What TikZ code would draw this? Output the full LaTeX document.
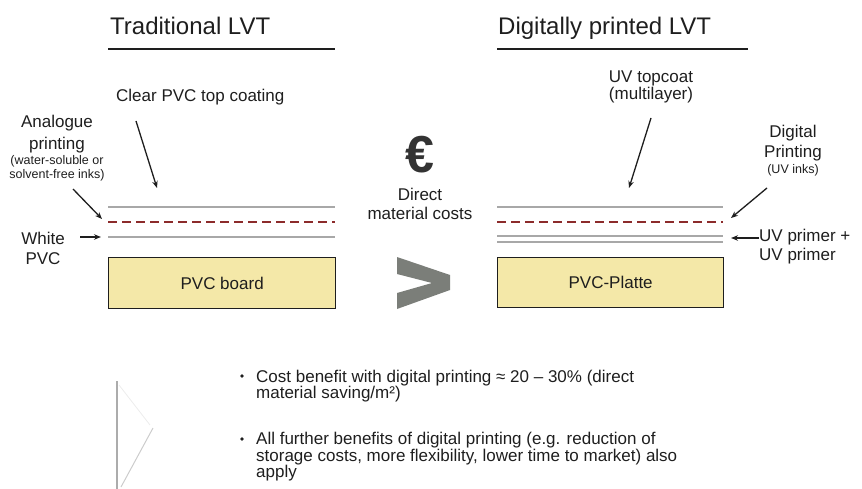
\documentclass[tikz,border=0pt]{standalone}
\usepackage{fontspec}
\setmainfont{Liberation Sans}
\usetikzlibrary{arrows.meta}
\definecolor{txt}{HTML}{1E1E1E}
\definecolor{board}{HTML}{F4E8A8}
\definecolor{layergray}{HTML}{A8A8A8}
\definecolor{inkred}{HTML}{8C2B2B}
\definecolor{chev}{HTML}{7B7E79}
\definecolor{eurocol}{HTML}{333333}
\begin{document}
\begin{tikzpicture}[x=1pt,y=-1pt,
 lbl/.style={font=\fontsize{17}{20}\selectfont, text=txt, inner sep=0pt, anchor=base},
 sml/.style={font=\fontsize{12.5}{14}\selectfont, text=txt, inner sep=0pt, anchor=base},
 ttl/.style={font=\fontsize{24}{28}\selectfont, text=txt, inner sep=0pt, anchor=base west},
 bul/.style={font=\fontsize{17}{17}\selectfont, text=txt, inner sep=0pt, anchor=base west},
 dot/.style={fill=txt, circle, inner sep=0pt, minimum size=3.8pt},
 arr/.style={draw=txt, line width=1.3pt, -{Stealth[length=7pt,width=5.5pt]}},
 glayer/.style={draw=layergray, line width=1.4pt},
 rlayer/.style={draw=inkred, line width=2.2pt, dash pattern=on 9pt off 5pt},
 boardbox/.style={draw=txt, line width=1.3pt, fill=board, inner sep=0pt,
   font=\fontsize{17}{20}\selectfont, text=txt, anchor=north west},
 uline/.style={draw=txt, line width=2pt},
]
\useasboundingbox (0,0) rectangle (862,489);

% titles
\node[ttl] (t1) at (110,35) {Traditional LVT};
\node[ttl] (t2) at (498,35) {Digitally printed LVT};
\coordinate (u1a) at (108,49); \coordinate (u1b) at (335,49);
\coordinate (u2a) at (497,49); \coordinate (u2b) at (748,49);
\draw[uline] (u1a) -- (u1b);
\draw[uline] (u2a) -- (u2b);

% left side labels
\node[lbl, anchor=base west] (clear) at (116,102) {Clear PVC top coating};
\node[lbl] (ana1) at (57,128) {Analogue};
\node[lbl] (ana2) at (57,150) {printing};
\node[sml] (ana3) at (57,165) {(water-soluble or};
\node[sml] (ana4) at (57,179) {solvent-free inks)};
\node[lbl] (wh1) at (43,244) {White};
\node[lbl] (wh2) at (43,265) {PVC};

% left layers
\coordinate (L1a) at (108,207); \coordinate (L1b) at (335,207);
\coordinate (L2a) at (108,222); \coordinate (L2b) at (335,222);
\coordinate (L3a) at (108,237); \coordinate (L3b) at (335,237);
\draw[glayer] (L1a) -- (L1b);
\draw[rlayer] (L2a) -- (L2b);
\draw[glayer] (L3a) -- (L3b);
\node[boardbox, minimum width=227pt, minimum height=51pt] (boardL) at (108,257) {PVC board};

% left arrows
\coordinate (aC1) at (136,121); \coordinate (aC2) at (157,188);
\coordinate (aA1) at (73,189); \coordinate (aA2) at (102,219);
\coordinate (aW1) at (80,237); \coordinate (aW2) at (101,237);
\draw[arr] (aC1) -- (aC2);
\draw[arr] (aA1) -- (aA2);
\draw[arr] (aW1) -- (aW2);

% middle
\node[font=\fontsize{52}{56}\selectfont\bfseries, text=eurocol, inner sep=0pt, anchor=base] (euro) at (420,173) {€};
\node[lbl] (dir1) at (420,201) {Direct};
\node[lbl] (dir2) at (420,220) {material costs};
\fill[chev] (397,257) -- (450,275) -- (450,290) -- (397,309) -- (397,293) -- (432,283) -- (397,274) -- cycle;

% right side labels
\node[lbl] (uv1) at (651,83) {UV topcoat};
\node[lbl] (uv2) at (651,100) {(multilayer)};
\node[lbl] (dg1) at (793,138) {Digital};
\node[lbl] (dg2) at (793,158) {Printing};
\node[sml] (dg3) at (793,174) {(UV inks)};
\node[lbl, anchor=base west] (pr1) at (759,241) {UV primer +};
\node[lbl, anchor=base west] (pr2) at (759,261) {UV primer};

% right layers
\coordinate (R1a) at (497,207); \coordinate (R1b) at (723,207);
\coordinate (R2a) at (497,222); \coordinate (R2b) at (723,222);
\coordinate (R3a) at (497,236); \coordinate (R3b) at (723,236);
\coordinate (R4a) at (497,242); \coordinate (R4b) at (723,242);
\draw[glayer] (R1a) -- (R1b);
\draw[rlayer] (R2a) -- (R2b);
\draw[glayer] (R3a) -- (R3b);
\draw[glayer] (R4a) -- (R4b);
\node[boardbox, minimum width=226pt, minimum height=50pt] (boardR) at (497,257) {PVC-Platte};

% right arrows
\coordinate (aU1) at (651,118); \coordinate (aU2) at (629,188);
\coordinate (aD1) at (767,188); \coordinate (aD2) at (731,218);
\coordinate (aP2) at (731,238);
\draw[arr] (aU1) -- (aU2);
\draw[arr] (aD1) -- (aD2);
\draw[arr] (pr1.west |- aP2) -- (aP2);

% bullets
\node[dot] (d1) at (242,376) {};
\node[bul] (b1a) at (256,382) {Cost benefit with digital printing ≈ 20 – 30\% (direct};
\node[bul] (b1b) at (256,398) {material saving/m²)};
\node[dot] (d2) at (242,439) {};
\node[bul] (b2a) at (256,444) {All further benefits of digital printing (e.g. reduction of};
\node[bul] (b2b) at (256,461) {storage costs, more flexibility, lower time to market) also};
\node[bul] (b2c) at (256,477) {apply};

% faint corner marks
\coordinate (k1) at (117,381); \coordinate (k2) at (117,489);
\coordinate (k3) at (153,428); \coordinate (k4) at (121,487);
\coordinate (k5) at (119,385); \coordinate (k6) at (150,425);
\draw[gray!65, line width=1.4pt] (k1) -- (k2);
\draw[gray!40, line width=1pt] (k3) -- (k4);
\draw[gray!15, line width=0.8pt] (k5) -- (k6);
\end{tikzpicture}
\end{document}
